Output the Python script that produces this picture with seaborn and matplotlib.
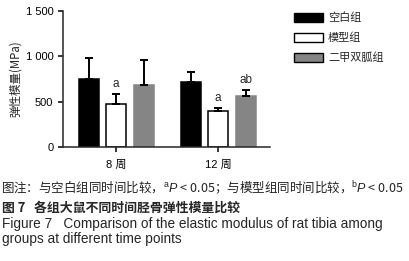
import numpy as np
import pandas as pd
import matplotlib
matplotlib.use("Agg")
import matplotlib.pyplot as plt
import seaborn as sns
from matplotlib.patches import Patch

sns.set_theme(style="ticks")
plt.rcParams['font.family'] = ['Liberation Sans', 'Noto Sans CJK SC', 'DejaVu Sans']
plt.rcParams['mathtext.fontset'] = 'custom'
plt.rcParams['mathtext.rm'] = 'Liberation Sans'
plt.rcParams['mathtext.it'] = 'Liberation Sans:italic'

# 数据
weeks = ['8 周', '12 周']
groups = ['空白组', '模型组', '二甲双胍组']
colors = ['#000000', '#ffffff', '#858585']
mean_8w = [750, 478, 684]
mean_12w = [720, 400, 562]
sd_8w = [235, 110, 272]
sd_12w = [104, 33, 66]
marks_8w = ['', 'a', '']
marks_12w = ['', 'a', 'ab']

df = pd.DataFrame({
    'week': np.repeat(weeks, len(groups)),
    'group': groups * len(weeks),
    'mean': mean_8w + mean_12w,
    'sd': sd_8w + sd_12w,
    'mark': marks_8w + marks_12w,
})

fig = plt.figure(figsize=(4.1, 2.61), dpi=100, facecolor='white')
ax = fig.add_axes([0.154, 0.437, 0.505, 0.521])

sns.barplot(data=df, x='week', y='mean', hue='group', order=weeks, hue_order=groups,
            palette=colors, width=0.81, gap=0.27, edgecolor='black', linewidth=1.1,
            errorbar=None, legend=False, ax=ax)

# 误差线（仅上方）与显著性标记
for g, cont in zip(groups, ax.containers):
    sub = df[df['group'] == g].set_index('week').loc[weeks]
    for bar, m, s, mk in zip(cont, sub['mean'], sub['sd'], sub['mark']):
        xc = bar.get_x() + bar.get_width() / 2
        if g == '二甲双胍组':
            bar.set_edgecolor(colors[2])
        ax.errorbar(xc, m, yerr=[[0], [s]], fmt='none', ecolor='black',
                    elinewidth=1.4, capsize=3.2, capthick=1.4, zorder=3)
        if mk:
            ax.text(xc, m + s + 40, mk, ha='center', va='bottom', fontsize=8.5)

ax.set_ylim(0, 1500)
ax.set_xlim(-0.52, 1.51)
ax.set_yticks([0, 500, 1000, 1500])
ax.set_yticklabels(['0', '500', '1 000', '1 500'])
ax.set_xlabel('')
ax.set_ylabel('弹性模量(MPa)', fontsize=8.3, labelpad=3, family=['Noto Sans CJK SC', 'DejaVu Sans'])
ax.tick_params(axis='both', labelsize=8, width=1.1, length=3.5, colors='black')
ax.tick_params(axis='x', pad=6)
for lab in ax.get_xticklabels():
    lab.set_fontfamily(['Liberation Sans', 'Noto Sans CJK SC'])
for sp in ['left', 'bottom']:
    ax.spines[sp].set_linewidth(1.1)
sns.despine(ax=ax)

handles = [Patch(facecolor=c, edgecolor='black', linewidth=1.0, label=g) for c, g in zip(colors, groups)]
fig.legend(handles=handles, loc='upper left', bbox_to_anchor=(0.693, 0.99), frameon=False,
           handlelength=2.6, handleheight=0.9, labelspacing=0.85, handletextpad=0.45,
           prop={'family': ['Noto Sans CJK SC', 'DejaVu Sans'], 'size': 8})

# 图注与图题
fig.text(0.003, 0.283, '图注：与空白组同时间比较，$^{\\rm a}\\mathit{P}$ < 0.05；与模型组同时间比较，$^{\\rm b}\\mathit{P}$ < 0.05',
         fontsize=9, ha='left', va='center', color='#222222', family='Noto Sans CJK SC')
fig.text(0.005, 0.205, '图 7   各组大鼠不同时间胫骨弹性模量比较', fontsize=9.3, fontweight='bold',
         ha='left', va='center', family=['Noto Sans CJK SC', 'DejaVu Sans'])
fig.text(0.005, 0.14, 'Figure 7   Comparison of the elastic modulus of rat tibia among',
         fontsize=9.8, ha='left', va='center')
fig.text(0.005, 0.085, 'groups at different time points', fontsize=9.8, ha='left', va='center')

fig.savefig('out.png', dpi=100, facecolor='white')
